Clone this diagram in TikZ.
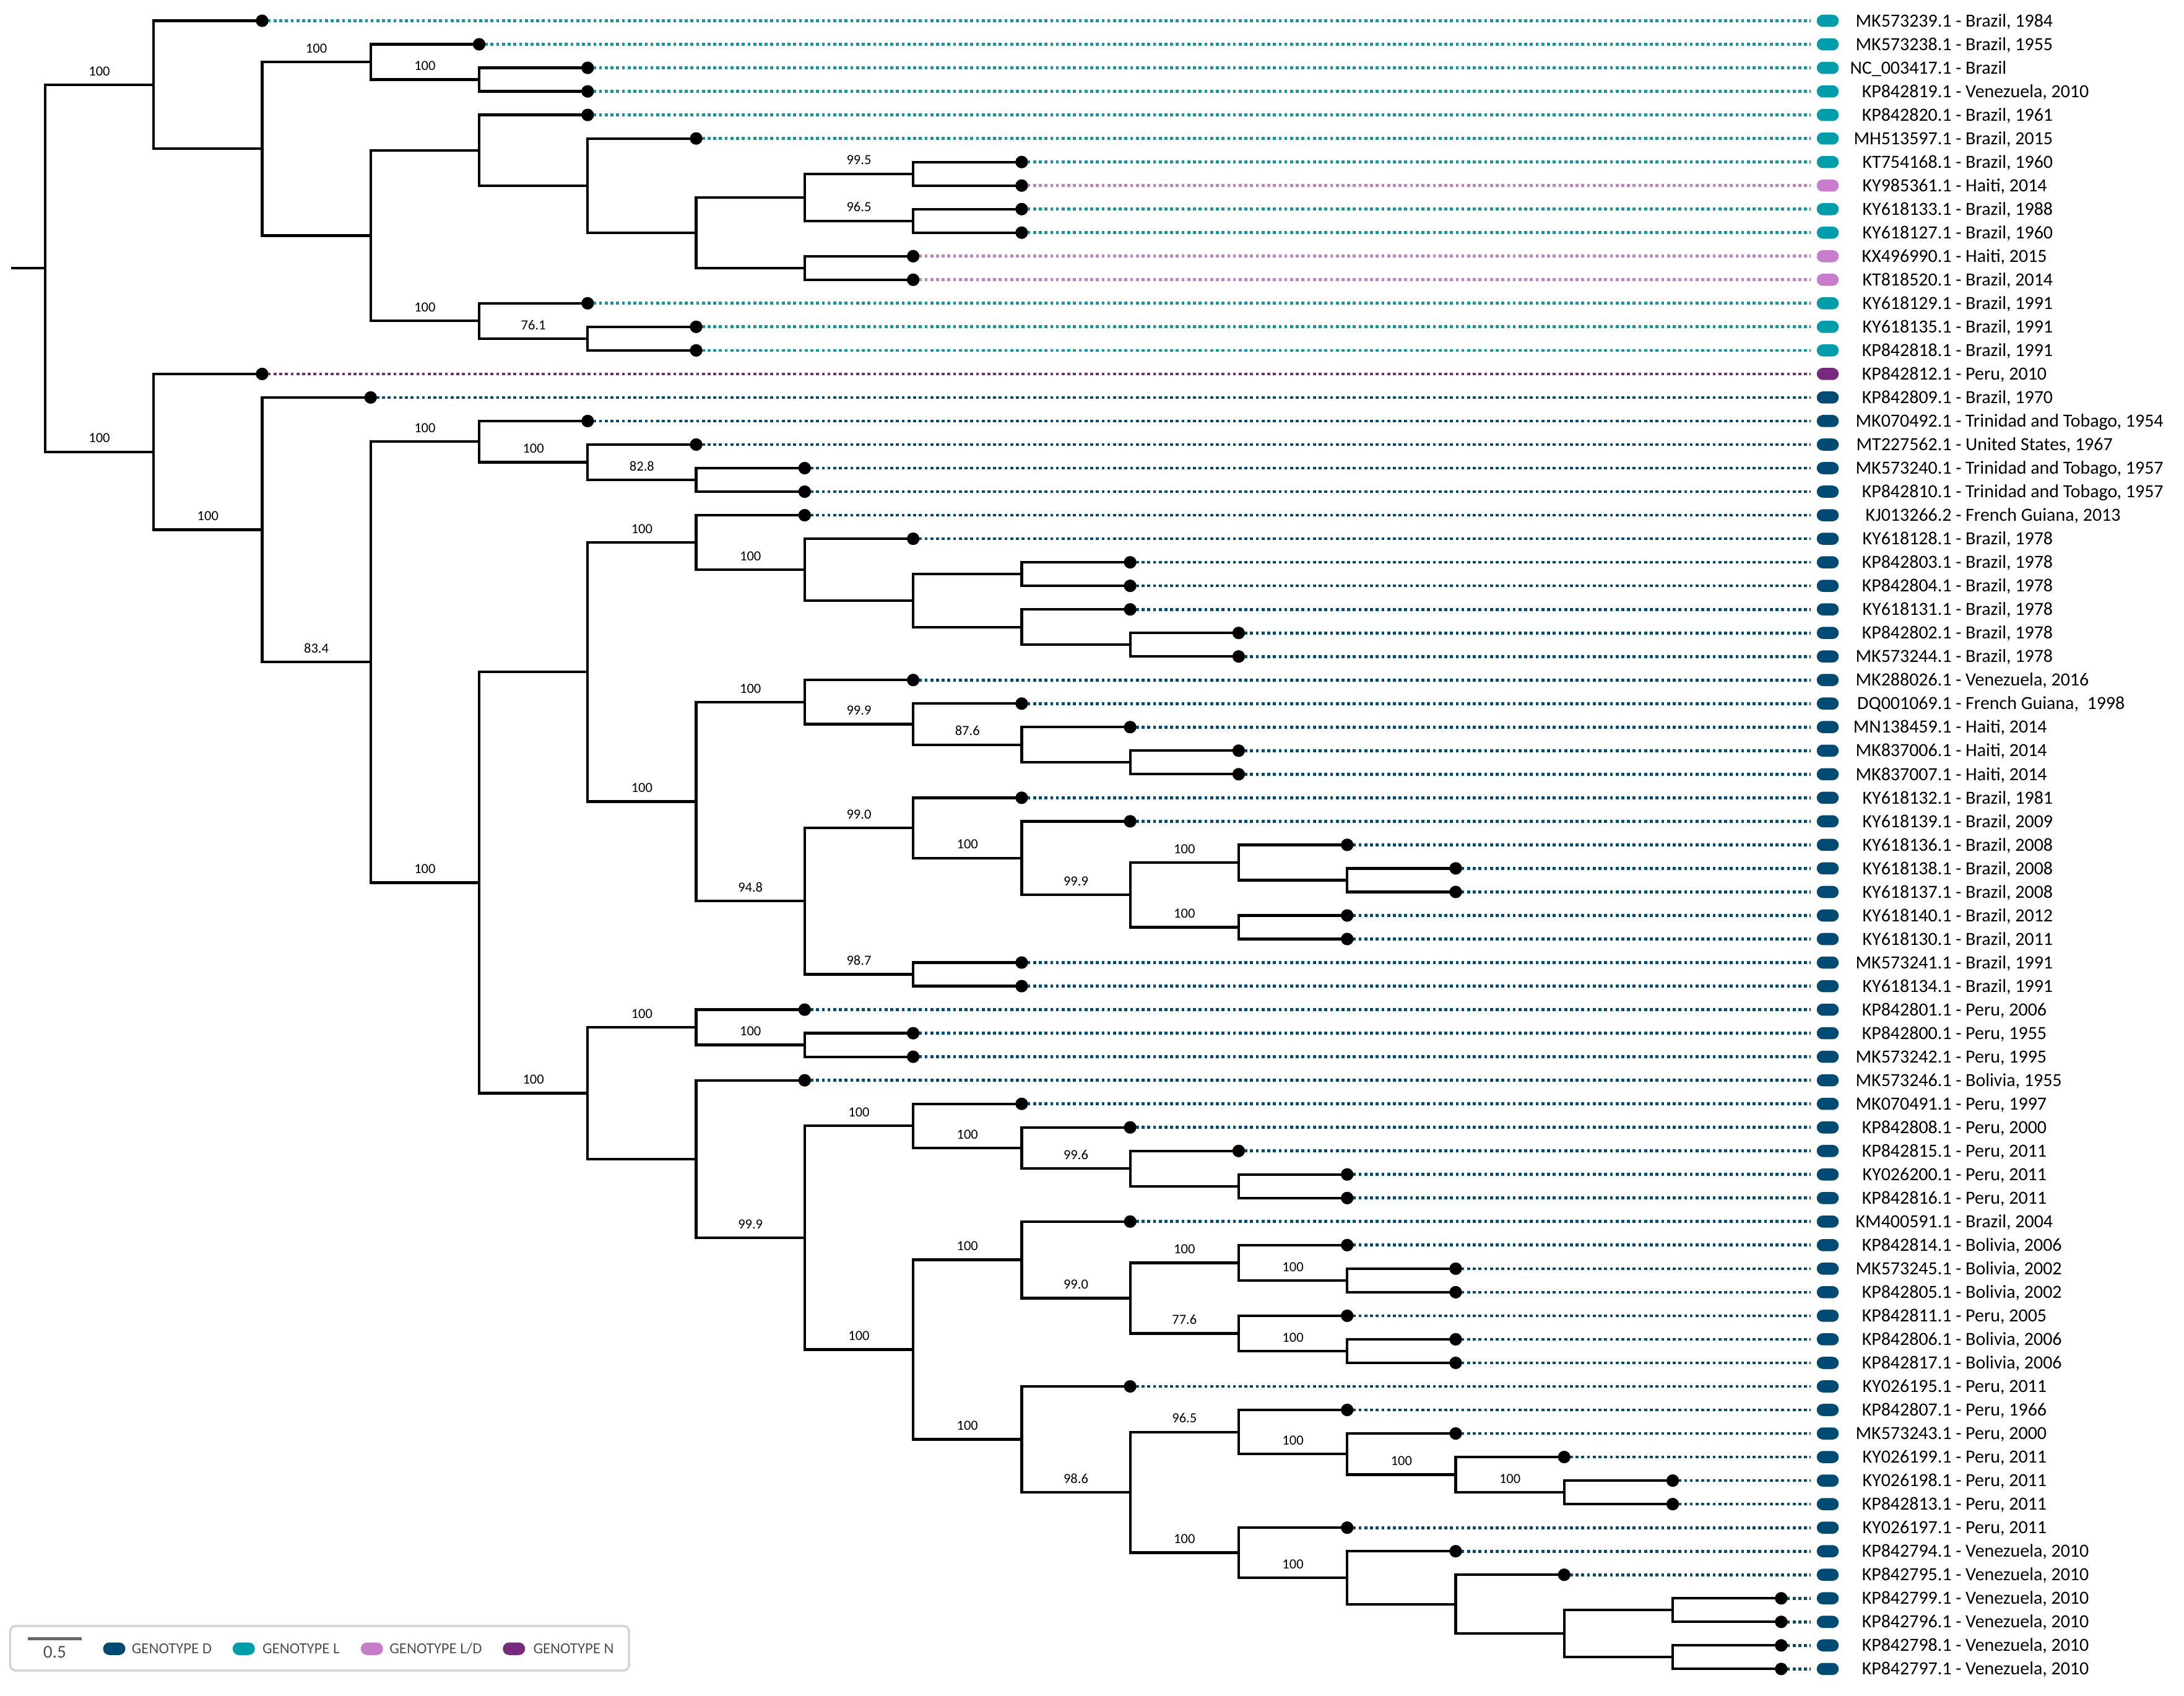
\documentclass[tikz,border=0pt]{standalone}
\usepackage{fontspec}
\setmainfont{Carlito}
\usetikzlibrary{calc}
\definecolor{gD}{HTML}{004B74}
\definecolor{gL}{HTML}{009EAA}
\definecolor{gLD}{HTML}{C77DCB}
\definecolor{gN}{HTML}{782A7E}
\definecolor{legtext}{HTML}{4F4F4F}
\definecolor{legborder}{HTML}{D4D4D4}
\newcommand\mkleaf[5]{%
  \coordinate (l#1) at ({32.4+77.9*#2},{14.9+(#1-1)*16.9});
  \coordinate (e#1) at (1299.8,{14.9+(#1-1)*16.9});
  \draw[dotline,#3] (l#1) -- (e#1);
  \node[pill,fill=#3] (p#1) at (1312.2,{14.9+(#1-1)*16.9}) {};
  \node[leaftext] (t#1) at (1400.9,{14.9+(#1-1)*16.9+4.3}) {\llap{#4} - #5};
}
\newcommand\mknode[4]{%
  \path let \p1=(#3), \p2=(#4) in coordinate (#1) at ({(32.4+77.9*#2)*1pt},{0.5*\y1+0.5*\y2});
  \draw[branch] (#3) -| (#1) |- (#4);
}
\newcommand\bs[2]{\node[boot] (b#1) at ([xshift=-38.95pt,yshift=6.6pt]#1) {#2};}
\begin{document}
\begin{tikzpicture}[x=1pt,y=-1pt,
  branch/.style={line width=1.9pt,black,line join=miter},
  dotline/.style={line width=2.1pt,dash pattern=on 2.1pt off 2pt},
  pill/.style={rectangle,rounded corners=4.4pt,minimum width=15.8pt,minimum height=8.7pt,inner sep=0pt,draw=none},
  leafdot/.style={circle,fill=black,inner sep=0pt,minimum size=9pt},
  leaftext/.style={anchor=base west,inner sep=0pt,font=\fontsize{13.3pt}{15pt}\selectfont},
  boot/.style={anchor=base,inner sep=0pt,font=\fontsize{10pt}{12pt}\selectfont},
  legbox/.style={draw=legborder,line width=1.6pt,rounded corners=4pt,fill=white,minimum width=444.3pt,minimum height=32pt,inner sep=0pt},
  legpill/.style={rectangle,rounded corners=4.5pt,minimum width=16pt,minimum height=9pt,inner sep=0pt,draw=none},
  legtxt/.style={anchor=base west,inner sep=0pt,text=legtext,font=\fontsize{11pt}{13pt}\selectfont},
  legnum/.style={anchor=base,inner sep=0pt,text=legtext,font=\fontsize{13pt}{15pt}\selectfont}]
\fill[white] (0,0) rectangle (1568,1217.3);
\useasboundingbox (0,0) rectangle (1568,1217.3);
% leaves
\mkleaf{1}{2}{gL}{MK573239.1}{Brazil, 1984}
\mkleaf{2}{4}{gL}{MK573238.1}{Brazil, 1955}
\mkleaf{3}{5}{gL}{NC\_003417.1}{Brazil}
\mkleaf{4}{5}{gL}{KP842819.1}{Venezuela, 2010}
\mkleaf{5}{5}{gL}{KP842820.1}{Brazil, 1961}
\mkleaf{6}{6}{gL}{MH513597.1}{Brazil, 2015}
\mkleaf{7}{9}{gL}{KT754168.1}{Brazil, 1960}
\mkleaf{8}{9}{gLD}{KY985361.1}{Haiti, 2014}
\mkleaf{9}{9}{gL}{KY618133.1}{Brazil, 1988}
\mkleaf{10}{9}{gL}{KY618127.1}{Brazil, 1960}
\mkleaf{11}{8}{gLD}{KX496990.1}{Haiti, 2015}
\mkleaf{12}{8}{gLD}{KT818520.1}{Brazil, 2014}
\mkleaf{13}{5}{gL}{KY618129.1}{Brazil, 1991}
\mkleaf{14}{6}{gL}{KY618135.1}{Brazil, 1991}
\mkleaf{15}{6}{gL}{KP842818.1}{Brazil, 1991}
\mkleaf{16}{2}{gN}{KP842812.1}{Peru, 2010}
\mkleaf{17}{3}{gD}{KP842809.1}{Brazil, 1970}
\mkleaf{18}{5}{gD}{MK070492.1}{Trinidad and Tobago, 1954}
\mkleaf{19}{6}{gD}{MT227562.1}{United States, 1967}
\mkleaf{20}{7}{gD}{MK573240.1}{Trinidad and Tobago, 1957}
\mkleaf{21}{7}{gD}{KP842810.1}{Trinidad and Tobago, 1957}
\mkleaf{22}{7}{gD}{KJ013266.2}{French Guiana, 2013}
\mkleaf{23}{8}{gD}{KY618128.1}{Brazil, 1978}
\mkleaf{24}{10}{gD}{KP842803.1}{Brazil, 1978}
\mkleaf{25}{10}{gD}{KP842804.1}{Brazil, 1978}
\mkleaf{26}{10}{gD}{KY618131.1}{Brazil, 1978}
\mkleaf{27}{11}{gD}{KP842802.1}{Brazil, 1978}
\mkleaf{28}{11}{gD}{MK573244.1}{Brazil, 1978}
\mkleaf{29}{8}{gD}{MK288026.1}{Venezuela, 2016}
\mkleaf{30}{9}{gD}{DQ001069.1}{French Guiana,\ \ 1998}
\mkleaf{31}{10}{gD}{MN138459.1}{Haiti, 2014}
\mkleaf{32}{11}{gD}{MK837006.1}{Haiti, 2014}
\mkleaf{33}{11}{gD}{MK837007.1}{Haiti, 2014}
\mkleaf{34}{9}{gD}{KY618132.1}{Brazil, 1981}
\mkleaf{35}{10}{gD}{KY618139.1}{Brazil, 2009}
\mkleaf{36}{12}{gD}{KY618136.1}{Brazil, 2008}
\mkleaf{37}{13}{gD}{KY618138.1}{Brazil, 2008}
\mkleaf{38}{13}{gD}{KY618137.1}{Brazil, 2008}
\mkleaf{39}{12}{gD}{KY618140.1}{Brazil, 2012}
\mkleaf{40}{12}{gD}{KY618130.1}{Brazil, 2011}
\mkleaf{41}{9}{gD}{MK573241.1}{Brazil, 1991}
\mkleaf{42}{9}{gD}{KY618134.1}{Brazil, 1991}
\mkleaf{43}{7}{gD}{KP842801.1}{Peru, 2006}
\mkleaf{44}{8}{gD}{KP842800.1}{Peru, 1955}
\mkleaf{45}{8}{gD}{MK573242.1}{Peru, 1995}
\mkleaf{46}{7}{gD}{MK573246.1}{Bolivia, 1955}
\mkleaf{47}{9}{gD}{MK070491.1}{Peru, 1997}
\mkleaf{48}{10}{gD}{KP842808.1}{Peru, 2000}
\mkleaf{49}{11}{gD}{KP842815.1}{Peru, 2011}
\mkleaf{50}{12}{gD}{KY026200.1}{Peru, 2011}
\mkleaf{51}{12}{gD}{KP842816.1}{Peru, 2011}
\mkleaf{52}{10}{gD}{KM400591.1}{Brazil, 2004}
\mkleaf{53}{12}{gD}{KP842814.1}{Bolivia, 2006}
\mkleaf{54}{13}{gD}{MK573245.1}{Bolivia, 2002}
\mkleaf{55}{13}{gD}{KP842805.1}{Bolivia, 2002}
\mkleaf{56}{12}{gD}{KP842811.1}{Peru, 2005}
\mkleaf{57}{13}{gD}{KP842806.1}{Bolivia, 2006}
\mkleaf{58}{13}{gD}{KP842817.1}{Bolivia, 2006}
\mkleaf{59}{10}{gD}{KY026195.1}{Peru, 2011}
\mkleaf{60}{12}{gD}{KP842807.1}{Peru, 1966}
\mkleaf{61}{13}{gD}{MK573243.1}{Peru, 2000}
\mkleaf{62}{14}{gD}{KY026199.1}{Peru, 2011}
\mkleaf{63}{15}{gD}{KY026198.1}{Peru, 2011}
\mkleaf{64}{15}{gD}{KP842813.1}{Peru, 2011}
\mkleaf{65}{12}{gD}{KY026197.1}{Peru, 2011}
\mkleaf{66}{13}{gD}{KP842794.1}{Venezuela, 2010}
\mkleaf{67}{14}{gD}{KP842795.1}{Venezuela, 2010}
\mkleaf{68}{16}{gD}{KP842799.1}{Venezuela, 2010}
\mkleaf{69}{16}{gD}{KP842796.1}{Venezuela, 2010}
\mkleaf{70}{16}{gD}{KP842798.1}{Venezuela, 2010}
\mkleaf{71}{16}{gD}{KP842797.1}{Venezuela, 2010}
% top clade
\mknode{F}{4}{l3}{l4}
\mknode{D}{3}{l2}{F}
\mknode{K1}{8}{l7}{l8}
\mknode{K2}{8}{l9}{l10}
\mknode{K}{7}{K1}{K2}
\mknode{M}{7}{l11}{l12}
\mknode{J}{6}{K}{M}
\mknode{I}{5}{l6}{J}
\mknode{G}{4}{l5}{I}
\mknode{N}{5}{l14}{l15}
\mknode{H}{4}{l13}{N}
\mknode{E}{3}{G}{H}
\mknode{C}{2}{D}{E}
\mknode{A}{1}{l1}{C}
% bottom clade
\mknode{R3}{6}{l20}{l21}
\mknode{R2}{5}{l19}{R3}
\mknode{R}{4}{l18}{R2}
\mknode{T1c}{9}{l24}{l25}
\mknode{T1e}{10}{l27}{l28}
\mknode{T1d}{9}{l26}{T1e}
\mknode{T1b}{8}{T1c}{T1d}
\mknode{T1a}{7}{l23}{T1b}
\mknode{T1}{6}{l22}{T1a}
\mknode{V3}{10}{l32}{l33}
\mknode{V2}{9}{l31}{V3}
\mknode{V1}{8}{l30}{V2}
\mknode{V}{7}{l29}{V1}
\mknode{W7}{12}{l37}{l38}
\mknode{W5}{11}{l36}{W7}
\mknode{W6}{11}{l39}{l40}
\mknode{W4}{10}{W5}{W6}
\mknode{W3}{9}{l35}{W4}
\mknode{W1}{8}{l34}{W3}
\mknode{W2}{8}{l41}{l42}
\mknode{W}{7}{W1}{W2}
\mknode{T2}{6}{V}{W}
\mknode{T}{5}{T1}{T2}
\mknode{U3}{7}{l44}{l45}
\mknode{U1}{6}{l43}{U3}
\mknode{U9}{11}{l50}{l51}
\mknode{U8}{10}{l49}{U9}
\mknode{U7}{9}{l48}{U8}
\mknode{U5}{8}{l47}{U7}
\mknode{U15}{12}{l54}{l55}
\mknode{U13}{11}{l53}{U15}
\mknode{U16}{12}{l57}{l58}
\mknode{U14}{11}{l56}{U16}
\mknode{U12}{10}{U13}{U14}
\mknode{U10}{9}{l52}{U12}
\mknode{U22}{14}{l63}{l64}
\mknode{U21}{13}{l62}{U22}
\mknode{U20}{12}{l61}{U21}
\mknode{U18}{11}{l60}{U20}
\mknode{U26}{15}{l68}{l69}
\mknode{U27}{15}{l70}{l71}
\mknode{U25}{14}{U26}{U27}
\mknode{U24}{13}{l67}{U25}
\mknode{U23}{12}{l66}{U24}
\mknode{U19}{11}{l65}{U23}
\mknode{U17}{10}{U18}{U19}
\mknode{U11}{9}{l59}{U17}
\mknode{U6}{8}{U10}{U11}
\mknode{U4}{7}{U5}{U6}
\mknode{U2}{6}{l46}{U4}
\mknode{U}{5}{U1}{U2}
\mknode{S}{4}{T}{U}
\mknode{Q}{3}{R}{S}
\mknode{P}{2}{l17}{Q}
\mknode{B}{1}{l16}{P}
\mknode{root}{0}{A}{B}
\coordinate (rstub) at ([xshift=-24.3pt]root);
\draw[branch] (rstub) -- (root);
% leaf dots
\foreach \i in {1,...,71}{\node[leafdot] (d\i) at (l\i) {};}
% support values
\bs{A}{100} \bs{B}{100} \bs{D}{100} \bs{F}{100} \bs{H}{100} \bs{N}{76.1}
\bs{K1}{99.5} \bs{K2}{96.5}
\bs{P}{100} \bs{Q}{83.4} \bs{R}{100} \bs{R2}{100} \bs{R3}{82.8} \bs{S}{100}
\bs{T1}{100} \bs{T1a}{100} \bs{T2}{100} \bs{V}{100} \bs{V1}{99.9} \bs{V2}{87.6}
\bs{W}{94.8} \bs{W1}{99.0} \bs{W3}{100} \bs{W4}{99.9} \bs{W5}{100} \bs{W6}{100} \bs{W2}{98.7}
\bs{U}{100} \bs{U1}{100} \bs{U3}{100} \bs{U4}{99.9} \bs{U5}{100} \bs{U7}{100} \bs{U8}{99.6}
\bs{U6}{100} \bs{U10}{100} \bs{U12}{99.0} \bs{U13}{100} \bs{U15}{100} \bs{U14}{77.6} \bs{U16}{100}
\bs{U11}{100} \bs{U17}{98.6} \bs{U18}{96.5} \bs{U20}{100} \bs{U21}{100} \bs{U22}{100}
\bs{U19}{100} \bs{U23}{100}
% legend
\node[legbox] (legend) at (229.45,1183) {};
\coordinate (sbA) at (19.9,1176.2);
\coordinate (sbB) at (58.7,1176.2);
\draw[line width=2.4pt,color=legtext!85] (sbA) -- (sbB);
\node[legnum] (sbl) at (39.3,1190.1) {0.5};
\node[legpill,fill=gD] (kD) at (82,1183.4) {};
\node[legtxt] (kDt) at (94.4,1186.8) {GENOTYPE D};
\node[legpill,fill=gL] (kL) at (175,1183.4) {};
\node[legtxt] (kLt) at (188.3,1186.8) {GENOTYPE L};
\node[legpill,fill=gLD] (kLD) at (267,1183.4) {};
\node[legtxt] (kLDt) at (279.5,1186.8) {GENOTYPE L/D};
\node[legpill,fill=gN] (kN) at (369,1183.4) {};
\node[legtxt] (kNt) at (382.7,1186.8) {GENOTYPE N};
\end{tikzpicture}
\end{document}
